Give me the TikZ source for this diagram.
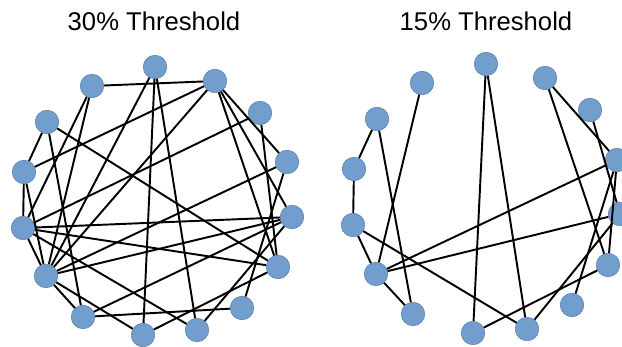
\documentclass[tikz,border=0pt]{standalone}
\usepackage{fontspec}
\setmainfont{Liberation Sans}
\usetikzlibrary{positioning}
\definecolor{vBlue}{RGB}{114,158,206}
\definecolor{vEdge}{RGB}{88,124,170}
\tikzset{
  vert/.style={circle, fill=vBlue, draw=vEdge, line width=0.3pt, minimum size=0.47cm, inner sep=0pt},
  link/.style={line width=1.1pt, black},
  heading/.style={font=\fontsize{14.6}{17}\selectfont, anchor=base},
}

\begin{document}
\begin{tikzpicture}[x=0.02cm, y=-0.02cm]
  \useasboundingbox (0,0) rectangle (622,347);
  \clip (0,0) rectangle (622,347);

  \node[heading] (t30) at (154,31) {30\% Threshold};
  \node[heading] (t15) at (486,31) {15\% Threshold};

  % 30% network
  \node[vert] (la) at (155,67)  {};
  \node[vert] (lb) at (215,81)  {};
  \node[vert] (lc) at (260,113) {};
  \node[vert] (ld) at (287,162) {};
  \node[vert] (le) at (292,217) {};
  \node[vert] (lf) at (278,267) {};
  \node[vert] (lg) at (242,308) {};
  \node[vert] (lh) at (197,330) {};
  \node[vert] (li) at (143,335) {};
  \node[vert] (lj) at (83,317)  {};
  \node[vert] (lk) at (46,276)  {};
  \node[vert] (ll) at (23,228)  {};
  \node[vert] (lm) at (24,172)  {};
  \node[vert] (ln) at (47,122)  {};
  \node[vert] (lo) at (92,86)   {};

  \foreach \u/\v in {lo/lb, lo/ll, lo/lk, ln/lm, ln/lj, ln/lf, lm/ll, lm/lk, lm/lb,
                     ll/lk, ll/le, ll/lf, ll/lh, ll/lc, lk/la, lk/lb, lk/ld, lk/le,
                     lk/lj, lk/li, la/li, la/lh, lb/ld, lb/le, lb/lf, lc/lf, ld/lg,
                     le/lh, le/lj, lf/li, lg/lj}
    \draw[link] (\u) -- (\v);

  % 15% network
  \node[vert] (ra) at (486,64)  {};
  \node[vert] (rb) at (545,78)  {};
  \node[vert] (rc) at (590,110) {};
  \node[vert] (rd) at (617,160) {};
  \node[vert] (re) at (620,214) {};
  \node[vert] (rf) at (608,265) {};
  \node[vert] (rg) at (572,305) {};
  \node[vert] (rh) at (527,329) {};
  \node[vert] (ri) at (473,333) {};
  \node[vert] (rj) at (413,314) {};
  \node[vert] (rk) at (376,274) {};
  \node[vert] (rl) at (353,225) {};
  \node[vert] (rm) at (354,169) {};
  \node[vert] (rn) at (377,119) {};
  \node[vert] (ro) at (422,83)  {};

  \foreach \u/\v in {rn/rm, rn/rj, ro/rk, rm/rl, rl/rk, rl/rh, rk/rj, rk/rd, rk/re,
                     ra/ri, ra/rh, rb/rf, rb/rd, rc/re, rd/rg, rd/rf, re/rh, rf/ri}
    \draw[link] (\u) -- (\v);
\end{tikzpicture}
\end{document}
